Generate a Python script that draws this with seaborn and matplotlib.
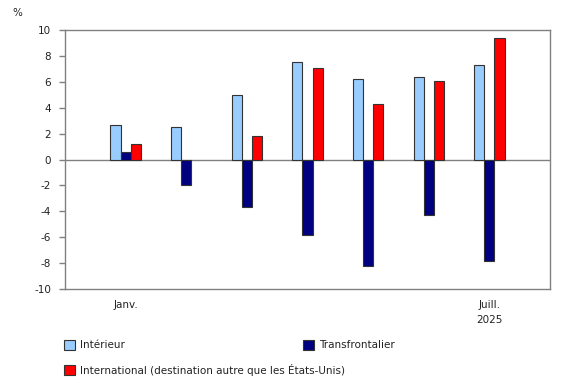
import numpy as np
import pandas as pd
import matplotlib
matplotlib.use("Agg")
import matplotlib.pyplot as plt
import seaborn as sns
from matplotlib.patches import Patch

months = ["Janv.", "Févr.", "Mars", "Avr.", "Mai", "Juin", "Juill."]
tick_labels = ["Janv.", "", "", "", "", "", "Juill.\n2025"]
series = ["Intérieur", "Transfrontalier", "International (destination autre que les États-Unis)"]
interieur = [2.7, 2.5, 5.0, 7.5, 6.2, 6.4, 7.3]
transfrontalier = [0.6, -2.0, -3.7, -5.8, -8.2, -4.3, -7.8]
international = [1.2, np.nan, 1.8, 7.1, 4.3, 6.1, 9.4]
colors = ["#99CCFF", "#000080", "#FF0000"]

rows = []
for s, vals in zip(series, [interieur, transfrontalier, international]):
    for m, v in zip(months, vals):
        if not np.isnan(v):
            rows.append({"mois": m, "serie": s, "valeur": v})
df = pd.DataFrame(rows)

sns.set_theme(style="white")
plt.rcParams["font.family"] = ["DejaVu Sans"]
fs = 7.5

fig = plt.figure(figsize=(5.8, 3.85), dpi=100)
ax = fig.add_axes([65/580, 1-289/385, (550-65)/580, (289-30)/385])

ax.axhline(0, color="#808080", lw=1.0, zorder=1)
sns.barplot(data=df, x="mois", y="valeur", hue="serie", order=months,
            hue_order=series, palette=colors, saturation=1, width=0.5, ax=ax,
            edgecolor="#333333", linewidth=0.8, legend=False, zorder=2)

ax.set_xlim(-1, 7)
ax.set_ylim(-10, 10)
ax.set_yticks(np.arange(-10, 11, 2))
ax.set_yticklabels([str(v) for v in range(-10, 11, 2)], fontsize=fs, color="#222222")
ax.set_xticks(range(len(months)))
ax.set_xticklabels(tick_labels, fontsize=fs, color="#222222", linespacing=1.6)
ax.tick_params(axis="x", length=0, pad=8)
ax.tick_params(axis="y", length=4, width=1, color="#808080", pad=6, left=True)
ax.set_xlabel("")
ax.set_ylabel("")
for sp in ax.spines.values():
    sp.set_color("#808080")
    sp.set_linewidth(1.0)
    sp.set_visible(True)

fig.text(12/580, 1-13/385, "%", fontsize=fs, color="#222222", va="center", ha="left")

def add_leg(label, color, x, y):
    h = [Patch(facecolor=color, edgecolor="#333333", linewidth=0.8)]
    lg = fig.legend(h, [label], loc="center left", bbox_to_anchor=(x/580, 1-y/385),
                    frameon=False, fontsize=fs, borderpad=0, borderaxespad=0,
                    handlelength=1.1, handleheight=1.1, handletextpad=0.4)
    for t in lg.get_texts():
        t.set_color("#222222")
    return lg

add_leg(series[0], colors[0], 64, 345)
add_leg(series[1], colors[1], 303, 345)
add_leg(series[2], colors[2], 64, 370)

fig.savefig("out.png", dpi=100)
